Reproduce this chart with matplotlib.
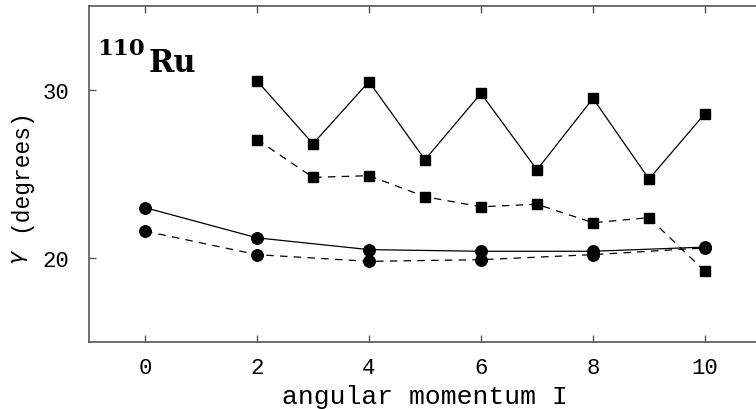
import matplotlib
matplotlib.use("Agg")
import matplotlib.pyplot as plt

# angular momentum values
spin_even = [0, 2, 4, 6, 8, 10]
spin_all = [2, 3, 4, 5, 6, 7, 8, 9, 10]

# gamma (degrees)
gamma_sq_solid = [30.55, 26.8, 30.5, 25.85, 29.8, 25.25, 29.5, 24.7, 28.6]
gamma_sq_dashed = [27.05, 24.8, 24.9, 23.65, 23.05, 23.2, 22.1, 22.4, 19.2]
gamma_ci_solid = [23.0, 21.2, 20.5, 20.4, 20.4, 20.65]
gamma_ci_dashed = [21.6, 20.2, 19.8, 19.9, 20.2, 20.6]

xticks = [0, 2, 4, 6, 8, 10]
yticks = [20, 30]

mono = "Liberation Mono"
spine_col = "#555555"

fig = plt.figure(figsize=(7.56, 4.10), dpi=100)
ax = fig.add_axes([89 / 756, 67 / 410, (761 - 89) / 756, (343 - 7) / 410])

ax.plot(spin_all, gamma_sq_solid, color="black", lw=0.9, marker="s", ms=7.8)
ax.plot(spin_all, gamma_sq_dashed, color="black", lw=0.9, ls=(0, (6, 5)),
        marker="s", ms=7.8)
ax.plot(spin_even, gamma_ci_solid, color="black", lw=0.9, marker="o", ms=8.3)
ax.plot(spin_even, gamma_ci_dashed, color="black", lw=0.9, ls=(0, (6, 5)),
        marker="o", ms=8.3)

ax.set_xlim(-1, 11)
ax.set_ylim(15, 35)
ax.set_xticks(xticks)
ax.set_yticks(yticks)

for s in ax.spines.values():
    s.set_color(spine_col)
    s.set_linewidth(1.2)
ax.tick_params(direction="in", length=5, width=1, color=spine_col,
               top=True, right=False, labelsize=16)
ax.tick_params(axis="x", pad=11)
ax.tick_params(axis="y", pad=14)
for lab in ax.get_xticklabels() + ax.get_yticklabels():
    lab.set_family(mono)

ax.set_xlabel("angular momentum I", family=mono, fontsize=19, labelpad=4)
fig.text(20 / 756, 1 - 170 / 410, "(degrees)", family=mono, fontsize=16.5,
         rotation=90, ha="center", va="center")
fig.text(20 / 756, 1 - 257 / 410, r"$\gamma$", fontsize=16,
         rotation=90, ha="center", va="center")

ax.text(0.012, 0.857, "110", transform=ax.transAxes, family="DejaVu Serif",
        fontweight="bold", fontsize=16.5, va="baseline")
ax.text(0.088, 0.806, "Ru", transform=ax.transAxes, family="DejaVu Serif",
        fontweight="bold", fontsize=22, va="baseline")

fig.savefig("out.png", dpi=100)
